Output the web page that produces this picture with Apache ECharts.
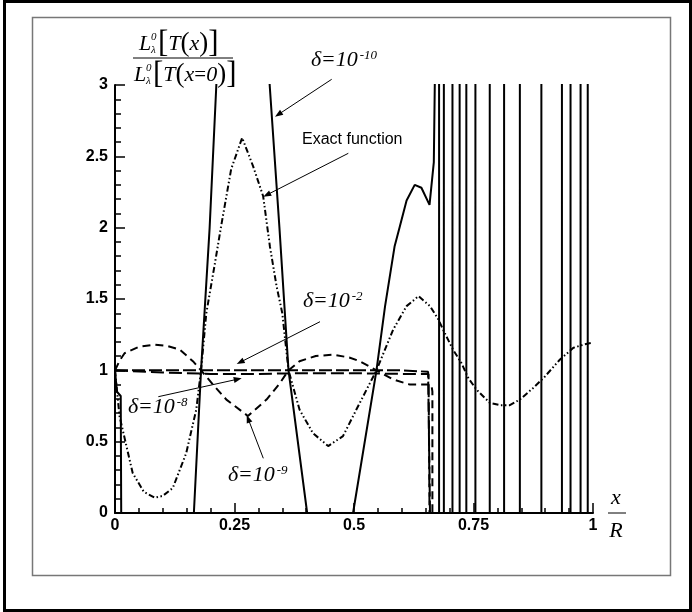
<!DOCTYPE html>
<html><head><meta charset="utf-8">
<script src="https://cdn.jsdelivr.net/npm/echarts@6/dist/echarts.min.js"></script>
<style>html,body{margin:0;padding:0;background:#fff}#c{width:692px;height:612px}</style>
</head><body><div id="c"></div>
<script>
// ---- data ----
const xTickValues = [0, 0.25, 0.5, 0.75, 1];
const yTickValues = [0, 0.5, 1, 1.5, 2, 2.5, 3];

// exact function (dash-dot-dot)
const exactFunction = [
  [0, 1.0], [0.0094, 0.68], [0.037, 0.28], [0.06, 0.15], [0.083, 0.107], [0.10, 0.12],
  [0.121, 0.176], [0.149, 0.42], [0.17, 0.725], [0.18, 1.0], [0.191, 1.40], [0.208, 1.73],
  [0.222, 2.01], [0.243, 2.41], [0.266, 2.63], [0.289, 2.43], [0.310, 2.22], [0.324, 1.87],
  [0.338, 1.59], [0.35, 1.40], [0.363, 1.0], [0.386, 0.725], [0.414, 0.56], [0.446, 0.469],
  [0.477, 0.539], [0.505, 0.725], [0.547, 1.0], [0.582, 1.286], [0.610, 1.45], [0.635, 1.52],
  [0.659, 1.45], [0.676, 1.36], [0.690, 1.26], [0.707, 1.146], [0.725, 1.05], [0.739, 0.947],
  [0.756, 0.866], [0.784, 0.772], [0.805, 0.756], [0.826, 0.756], [0.847, 0.795], [0.875, 0.877],
  [0.900, 0.959], [0.931, 1.076], [0.959, 1.158], [0.980, 1.18], [0.998, 1.193]
];

// delta = 1e-10 (solid); values 3.3 / -0.3 mean "beyond the axis range"
const delta1e10 = [
  [0, 1.0], [0.004, 0.85], [0.012, 0.82], [0.013, 0], [0.014, -0.3],
  [0.16, -0.3], [0.165, 0], [0.18, 1.0], [0.198, 2.0], [0.212, 3.0], [0.215, 3.3],
  [0.32, 3.3], [0.3236, 3.0], [0.344, 2.0], [0.363, 1.0], [0.402, 0], [0.406, -0.3],
  [0.494, -0.3], [0.498, 0], [0.547, 1.0], [0.565, 1.45], [0.585, 1.87], [0.596, 2.01],
  [0.610, 2.19], [0.627, 2.30], [0.641, 2.28], [0.658, 2.16], [0.667, 2.46], [0.669, 3.0], [0.670, 3.3],
  [0.678, 3.3], [0.678, -0.3], [0.688, -0.3], [0.688, 3.3], [0.706, 3.3], [0.706, -0.3],
  [0.721, -0.3], [0.721, 3.3], [0.735, 3.3], [0.735, -0.3], [0.754, -0.3], [0.754, 3.3],
  [0.784, 3.3], [0.784, -0.3], [0.814, -0.3], [0.814, 3.3], [0.847, 3.3], [0.847, -0.3],
  [0.892, -0.3], [0.892, 3.3], [0.935, 3.3], [0.935, -0.3], [0.953, -0.3], [0.953, 3.3],
  [0.974, 3.3], [0.974, -0.3], [0.989, -0.3], [0.989, 3.3], [1.0, 3.3]
];

// delta = 1e-9 (medium dashes)
const delta1e9 = [
  [0, 1.0], [0.01, 1.07], [0.02, 1.12], [0.05, 1.165], [0.083, 1.18], [0.11, 1.17],
  [0.135, 1.146], [0.163, 1.064], [0.18, 1.0], [0.205, 0.90], [0.233, 0.795], [0.278, 0.68],
  [0.317, 0.795], [0.345, 0.91], [0.363, 1.0], [0.386, 1.064], [0.42, 1.10], [0.456, 1.11],
  [0.49, 1.09], [0.512, 1.064], [0.547, 1.0], [0.582, 0.936], [0.617, 0.90], [0.662, 0.90],
  [0.664, 0.85], [0.664, 0]
];

// delta = 1e-8 (long dashes)
const delta1e8 = [
  [0, 1.0], [0.1, 0.985], [0.2, 0.975], [0.3, 0.975], [0.4, 0.98], [0.5, 0.98],
  [0.6, 0.975], [0.656, 0.975], [0.658, 0]
];

// delta = 1e-2 (long dashes)
const delta1e2 = [
  [0, 1.0], [0.2, 1.0], [0.4, 1.0], [0.6, 1.0], [0.655, 0.99], [0.658, 0.98], [0.659, 0]
];

// ---- chart ----
const chart = echarts.init(document.getElementById('c'), null, { renderer: 'canvas' });
const SERIF = '"Liberation Serif","Times New Roman",serif';
const SANS = '"Liberation Sans",Arial,sans-serif';

function lineSeries(name, data, type, width) {
  return {
    name, type: 'line', data, symbol: 'none', clip: true, animation: false,
    lineStyle: { color: '#000', width: width, type: type, cap: 'butt' }
  };
}

function arrow(x1, y1, x2, y2) {
  const dx = x2 - x1, dy = y2 - y1, L = Math.hypot(dx, dy);
  const ux = dx / L, uy = dy / L, nx = -uy, ny = ux, hl = 8, hw = 3;
  return [
    { type: 'line', shape: { x1, y1, x2: x2 - ux * 4, y2: y2 - uy * 4 }, style: { stroke: '#000', lineWidth: 1 } },
    { type: 'polygon', shape: { points: [[x2, y2], [x2 - ux * hl + nx * hw, y2 - uy * hl + ny * hw], [x2 - ux * hl - nx * hw, y2 - uy * hl - ny * hw]] }, style: { fill: '#000' } }
  ];
}

function txt(x, y, text, style) {
  return { type: 'text', x, y, style: Object.assign({ text, fill: '#000', align: 'left', verticalAlign: 'middle' }, style) };
}

const deltaRich = {
  d: { fontFamily: SERIF, fontStyle: 'italic', fontSize: 22 },
  e: { fontFamily: SERIF, fontSize: 22, padding: [0, 1, 0, 1] },
  n: { fontFamily: SERIF, fontStyle: 'italic', fontSize: 22 },
  s: { fontFamily: SERIF, fontStyle: 'italic', fontSize: 13, verticalAlign: 'top', padding: [0, 0, 0, 2] }
};
function deltaLabel(x, y, exp) {
  return txt(x, y, '{d|δ}{e|=}{n|10}{s|' + exp + '}', { rich: deltaRich });
}

const fracRich = {
  b: { fontFamily: SERIF, fontSize: 31 },
  p: { fontFamily: SERIF, fontSize: 27 },
  i: { fontFamily: SERIF, fontStyle: 'italic', fontSize: 22 },
  e: { fontFamily: SERIF, fontSize: 21 }
};
const it = (size) => ({ fontFamily: SERIF, fontStyle: 'italic', fontSize: size });

const graphics = [
  // outer frame and inner box
  { type: 'rect', shape: { x: 4.5, y: 1.5, width: 686, height: 609 }, style: { fill: 'none', stroke: '#000', lineWidth: 3 }, z: 10 },
  { type: 'rect', shape: { x: 32.5, y: 17.5, width: 638, height: 558 }, style: { fill: 'none', stroke: '#777', lineWidth: 1.5 }, z: 10 },
  // y-axis title fraction
  txt(139, 44, 'L', it(22)),
  txt(151, 37, '0', it(11)),
  txt(151, 50, 'λ', it(11)),
  txt(158, 44, '{b|[}{i|T}{p|(}{i|x}{p|)}{b|]}', { rich: fracRich }),
  { type: 'line', shape: { x1: 133, y1: 58, x2: 233, y2: 58 }, style: { stroke: '#000', lineWidth: 1 } },
  txt(134, 75, 'L', it(22)),
  txt(146, 68, '0', it(11)),
  txt(146, 81, 'λ', it(11)),
  txt(153, 75, '{b|[}{i|T}{p|(}{i|x}{e|=}{i|0}{p|)}{b|]}', { rich: fracRich }),
  // x / R
  txt(616, 498, 'x', Object.assign(it(22), { align: 'center' })),
  { type: 'line', shape: { x1: 608, y1: 513, x2: 626, y2: 513 }, style: { stroke: '#000', lineWidth: 1 } },
  txt(616, 531, 'R', Object.assign(it(22), { align: 'center' })),
  // annotations
  deltaLabel(311, 60, '-10'),
  txt(302, 140, 'Exact function', { fontFamily: SANS, fontSize: 16 }),
  deltaLabel(303, 301, '-2'),
  deltaLabel(128, 407, '-8'),
  deltaLabel(228, 475, '-9'),
  ...arrow(331.7, 79.3, 275, 116.7),
  ...arrow(348.3, 153.3, 263.3, 196.7),
  ...arrow(320, 321.7, 236.7, 364),
  ...arrow(158.3, 396.7, 241.7, 378.3),
  ...arrow(263.3, 458.3, 246.7, 415)
];

const option = {
  animation: false,
  backgroundColor: '#fff',
  grid: { left: 115, right: 99, top: 85, bottom: 99, containLabel: false },
  xAxis: {
    type: 'value', min: xTickValues[0], max: xTickValues[xTickValues.length - 1], interval: 0.25,
    splitLine: { show: false },
    axisLine: { show: true, onZero: false, lineStyle: { color: '#000', width: 2 } },
    axisTick: { show: true, inside: true, length: 10, lineStyle: { color: '#000', width: 1.5 } },
    minorTick: { show: true, splitNumber: 5, length: 5, lineStyle: { color: '#000', width: 1.5 } },
    axisLabel: { color: '#000', fontFamily: SANS, fontWeight: 'bold', fontSize: 16, margin: 5,
      formatter: (v) => { const k = xTickValues.indexOf(v); return k >= 0 ? String(xTickValues[k]) : ''; } }
  },
  yAxis: {
    type: 'value', min: yTickValues[0], max: yTickValues[yTickValues.length - 1], interval: 0.5,
    splitLine: { show: false },
    axisLine: { show: true, onZero: false, lineStyle: { color: '#000', width: 2 } },
    axisTick: { show: true, inside: true, length: 10, lineStyle: { color: '#000', width: 1.5 } },
    minorTick: { show: true, splitNumber: 5, length: 6, lineStyle: { color: '#000', width: 1.5 } },
    axisLabel: { color: '#000', fontFamily: SANS, fontWeight: 'bold', fontSize: 16, margin: 7,
      formatter: (v) => { const k = yTickValues.indexOf(v); return k >= 0 ? String(yTickValues[k]) : ''; } }
  },
  series: [
    lineSeries('Exact function', exactFunction, [6, 2.5, 1.5, 2.5, 1.5, 2.5], 2),
    lineSeries('δ=1e-2', delta1e2, [13, 4], 2),
    lineSeries('δ=1e-8', delta1e8, [13, 5], 2),
    lineSeries('δ=1e-9', delta1e9, [8, 5], 2),
    lineSeries('δ=1e-10', delta1e10, 'solid', 2)
  ],
  graphic: { elements: graphics }
};
chart.setOption(option);
</script>
</body></html>
